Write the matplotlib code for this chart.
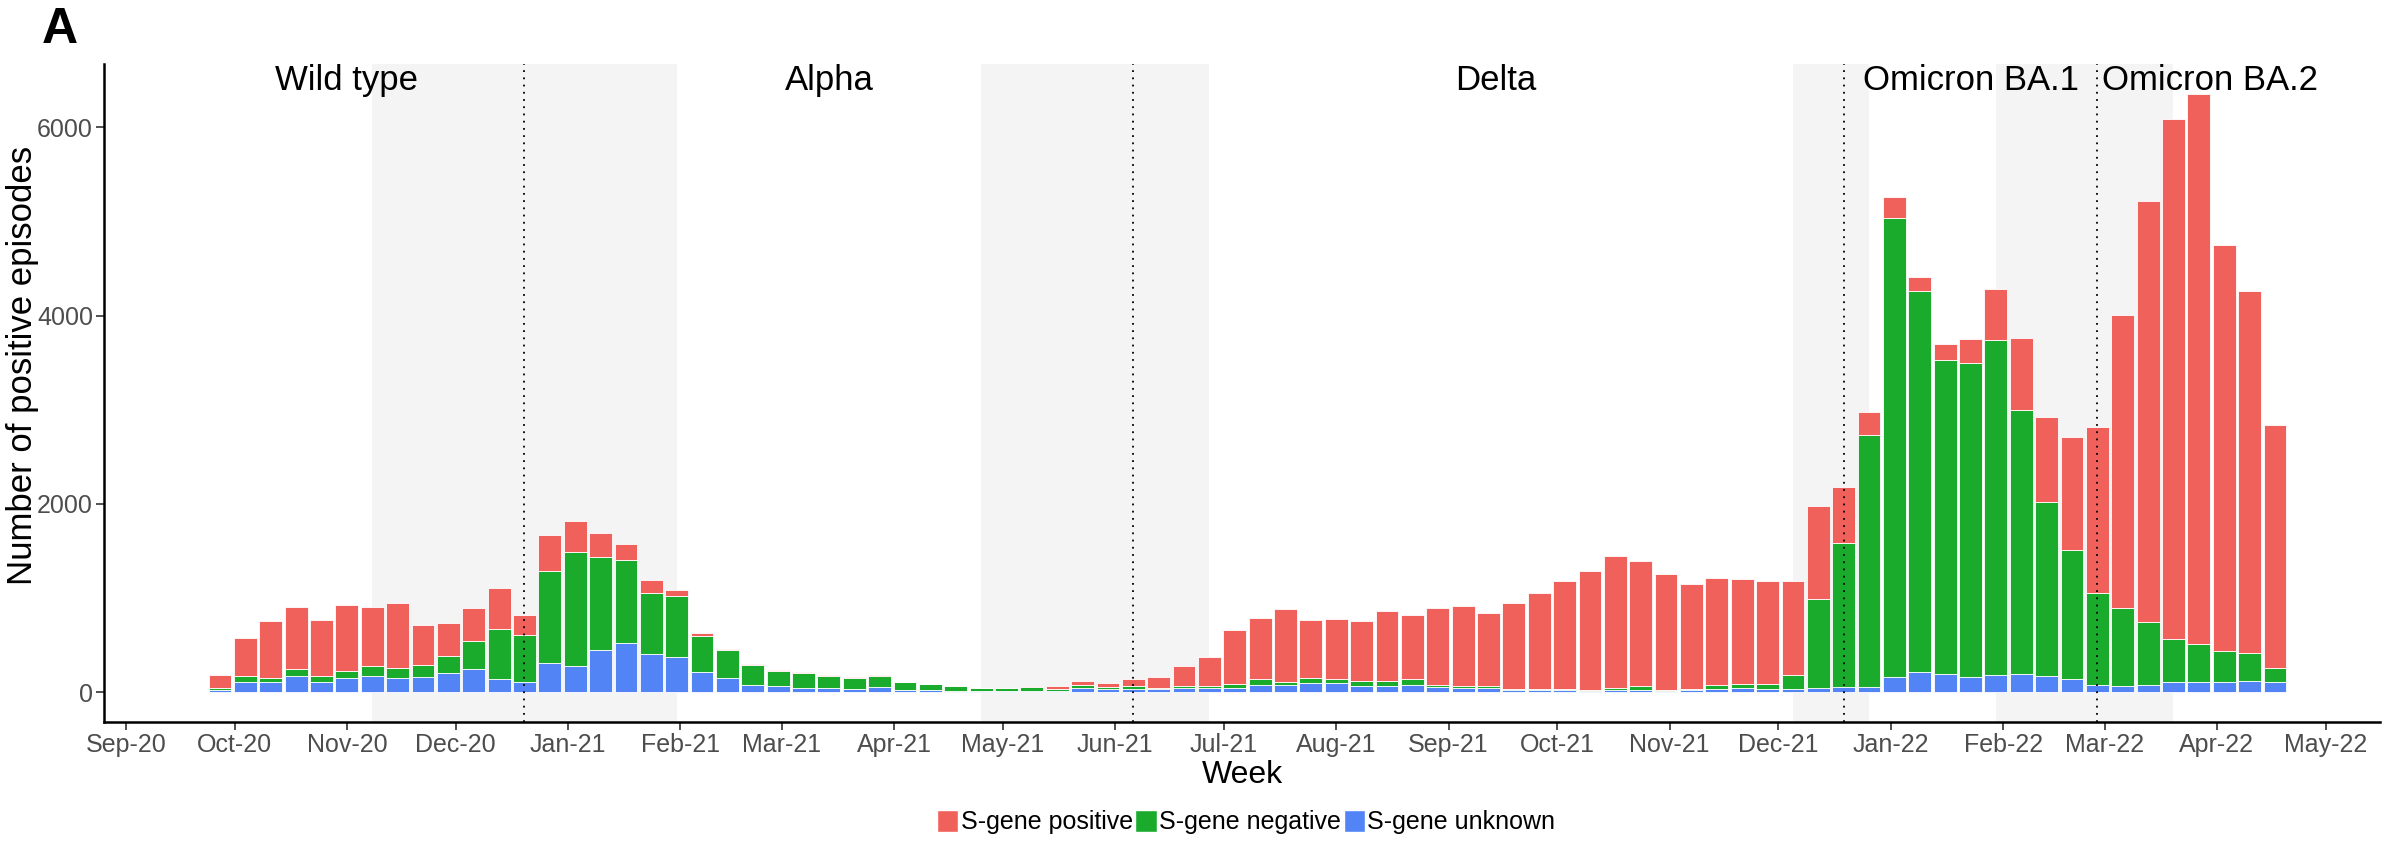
import matplotlib
matplotlib.use('Agg')
import matplotlib.pyplot as plt
import matplotlib.dates as mdates
from matplotlib.patches import Patch
from matplotlib import font_manager
import numpy as np
import pandas as pd

plt.rcParams['font.family'] = ['Liberation Sans', 'DejaVu Sans']
names = {f.name for f in font_manager.fontManager.ttflist}
narrow = 'Liberation Sans Narrow' if 'Liberation Sans Narrow' in names else None

# weekly episodes, first week centred on 27 Sep 2020
weeks = pd.date_range('2020-09-27', periods=82, freq='7D')

s_unknown = [25, 106, 106, 173, 106, 145, 166, 145, 159, 202,
             244, 138, 110, 308, 279, 449, 520, 403, 375, 209,
             145, 78, 60, 42, 42, 35, 57, 25, 18, 14,
             11, 11, 14, 14, 42, 32, 35, 28, 44, 46,
             46, 74, 74, 96, 99, 64, 64, 78, 57, 46,
             46, 21, 21, 18, 14, 21, 25, 11, 18, 32,
             39, 32, 30, 48, 53, 54, 165, 214, 188, 165,
             179, 197, 170, 134, 80, 63, 71, 107, 103, 112,
             121, 103]
s_negative = [21, 60, 46, 71, 60, 74, 113, 113, 127, 184,
              301, 534, 495, 983, 1207, 991, 884, 651, 644, 389,
              301, 205, 163, 163, 128, 117, 113, 78, 63, 46,
              32, 31, 43, 18, 36, 25, 29, 18, 22, 21,
              42, 67, 32, 53, 39, 56, 49, 60, 21, 18,
              21, 14, 14, 10, 11, 21, 35, 7, 10, 46,
              46, 49, 153, 939, 1530, 2679, 4873, 4051, 3336, 3327,
              3564, 2800, 1853, 1380, 978, 835, 679, 460, 411, 321,
              290, 152]
s_positive = [141, 407, 605, 661, 602, 704, 623, 686, 432, 343,
              350, 432, 219, 382, 328, 247, 170, 138, 67, 28,
              10, 11, 10, 4, 7, 11, 10, 7, 7, 4,
              3, 2, 3, 32, 42, 39, 70, 113, 210, 308,
              577, 648, 778, 615, 637, 633, 750, 686, 817, 849,
              775, 909, 1019, 1157, 1259, 1405, 1330, 1241, 1118, 1139,
              1121, 1097, 995, 990, 600, 246, 219, 147, 169, 259,
              535, 768, 898, 1192, 1760, 3108, 4466, 5525, 5841, 4314,
              3850, 2585]

variant_names = ['Wild type', 'Alpha', 'Delta', 'Omicron BA.1', 'Omicron BA.2']
label_dates = pd.to_datetime(['2020-11-01', '2021-03-14', '2021-09-14',
                              '2022-01-23', '2022-03-30'])
switch_dates = pd.to_datetime(['2020-12-20', '2021-06-06', '2021-12-19', '2022-02-27'])
transition_start = pd.to_datetime(['2020-11-08', '2021-04-25', '2021-12-05', '2022-01-30'])
transition_end = pd.to_datetime(['2021-01-31', '2021-06-27', '2021-12-26', '2022-03-20'])

col_pos = '#F0615B'
col_neg = '#1AAB2D'
col_unk = '#5284F6'

if narrow:
    small_family = [narrow, 'Liberation Sans', 'DejaVu Sans']
    tick_size, leg_size = 22, 22
else:
    small_family = ['Liberation Sans', 'DejaVu Sans']
    tick_size, leg_size = 18, 18

fig = plt.figure(figsize=(23.92, 8.44), dpi=100)
ax = fig.add_axes([0.0435, 0.1445, 0.9515, 0.7797])

# transition shading
for a, b in zip(transition_start, transition_end):
    ax.axvspan(a, b, color='#F4F4F4', lw=0, zorder=0)

unk = np.array(s_unknown)
neg = np.array(s_negative)
pos = np.array(s_positive)
w = 6.3
ax.bar(weeks, unk, width=w, color=col_unk, edgecolor='white', linewidth=0.6, zorder=2)
ax.bar(weeks, neg, width=w, bottom=unk, color=col_neg, edgecolor='white', linewidth=0.6, zorder=2)
ax.bar(weeks, pos, width=w, bottom=unk + neg, color=col_pos, edgecolor='white', linewidth=0.6, zorder=2)

for d in switch_dates:
    ax.axvline(d, color='black', linestyle=(0, (1, 3)), linewidth=1.3, zorder=3)

for name, d in zip(variant_names, label_dates):
    ax.text(d, 6500, name, ha='center', va='center', fontsize=25, color='black', zorder=4)

ax.set_xlim(pd.Timestamp('2020-08-26'), pd.Timestamp('2022-05-16'))
ax.set_ylim(-318, 6673)
ax.set_yticks([0, 2000, 4000, 6000])
ax.xaxis.set_major_locator(mdates.MonthLocator())
ax.xaxis.set_major_formatter(mdates.DateFormatter('%b-%y'))

for s in ['top', 'right']:
    ax.spines[s].set_visible(False)
for s in ['left', 'bottom']:
    ax.spines[s].set_linewidth(1.8)
ax.tick_params(axis='both', labelsize=tick_size, labelcolor='#4D4D4D', color='#333333',
               length=6, width=1.2, pad=2)
for lab in ax.get_xticklabels() + ax.get_yticklabels():
    lab.set_family(small_family)

ax.set_xlabel('Week', fontsize=23, labelpad=2)
fig.text(0.0096, 0.5675, 'Number of positive episodes', rotation=90,
         ha='center', va='center', fontsize=25)

fig.text(0.0176, 0.949, 'A', fontsize=36, fontweight='bold', va='baseline')

handles = [Patch(facecolor=col_pos, edgecolor='white'),
           Patch(facecolor=col_neg, edgecolor='white'),
           Patch(facecolor=col_unk, edgecolor='white')]
fig.legend(handles, ['S-gene positive', 'S-gene negative', 'S-gene unknown'],
           loc='center', bbox_to_anchor=(0.521, 0.026), ncol=3, frameon=False,
           prop={'family': small_family, 'size': leg_size},
           handlelength=0.85, handleheight=1.0, handletextpad=0.1,
           columnspacing=0.1, borderaxespad=0)

fig.savefig('out.png', dpi=100)
